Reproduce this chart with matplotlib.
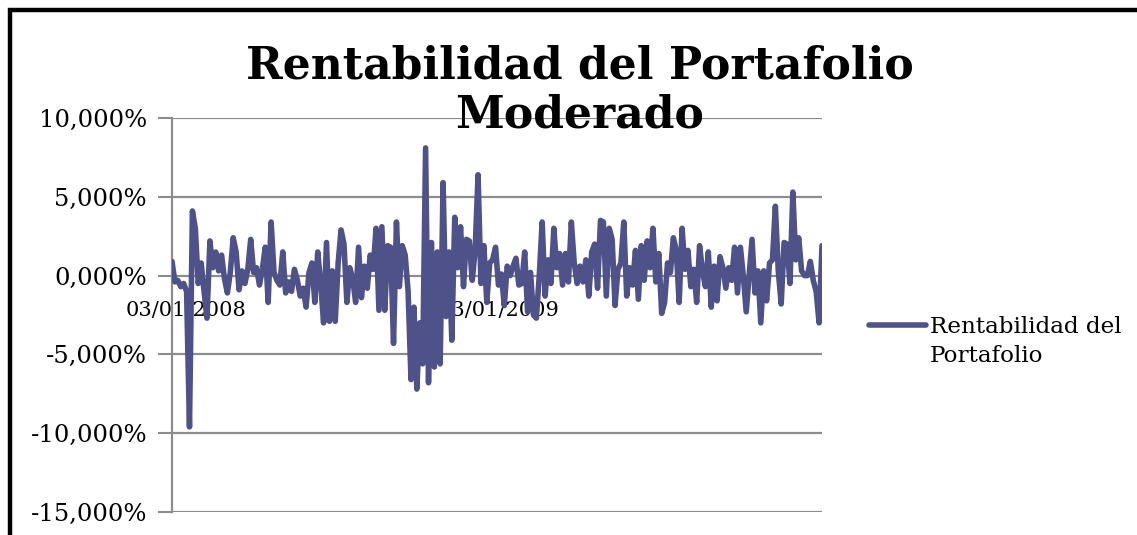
import numpy as np
import matplotlib
matplotlib.use("Agg")
import matplotlib.pyplot as plt
from matplotlib.patches import Rectangle

# Daily returns (%), in order
seg_2008a = [0.9, -0.4, -0.3, -0.7, -0.5, -1.0, -9.6, 4.1, 3.0, -0.5, 0.8, -1.0, -2.7, 2.2, 0.5,
             1.5, 0.3, 1.3, -0.2, -1.1, 0.2, 2.4, 1.5, -0.9, 0.3, -0.5, 0.4, 2.3, 0.2, 0.5,
             -0.6, 0.4, 1.8, -1.7, 3.4]
seg_2008b = [0.2, -0.3, -0.6, 1.5, -1.1, -0.4, -1.0, 0.4, -0.3, -1.3, -0.8, -2.0, 0.2, 0.8, -1.7,
             1.5, -0.5, -3.0, 2.1, -2.9, 0.3, -2.9, 0.8, 2.9, 2.0, -1.7, 0.5, -0.2, -1.7, 1.8,
             -1.4, 0.6, -0.8, 1.3, 0.4, 3.0, -2.2]
seg_2008c = [3.1, -2.2, 1.9, 1.8, -4.3, 3.4, -0.7, 1.9, 1.3, -1.0, -6.6, -2.0, -7.2, -3.0, -5.6,
             8.1, -6.8, 2.1, -5.8, 1.5, -5.6, 5.9, -2.6, 1.5, -4.1, 3.7, 0.5, 3.1, -0.7, 2.3,
             2.2, -0.3, 1.6, 6.4, -0.5, 1.9, -1.7, 0.8, 1.0]
seg_2009a = [1.8, -0.6, 0.1, -1.9, 0.6, 0.0, 0.6, 1.1, -0.6, -0.5, 1.5, -2.3, 0.2, -2.5, -2.7,
             0.0, 3.4, -1.3, 1.0, -0.5, 3.0, 0.5, 1.4, -0.6, 1.4, -0.4, 3.4, 0.8, -0.5, 0.6,
             -0.4, 1.0, -1.3, 1.5, 2.0, -0.8, 3.5]
seg_2009b = [3.4, -1.3, 3.0, 2.3, -1.9, 0.4, 0.8, 3.4, -1.3, 0.5, -0.6, 1.6, -1.5, 1.9, -0.3,
             2.2, 0.5, 3.0, -0.4, 1.4, -2.4, -1.7, 0.8, 0.2, 2.4, 1.6, -1.7, 3.0, 0.4, 1.6,
             -0.7, 0.4, -1.7, 1.9, 0.3, -0.7, 1.5, -2.0, 0.6]
seg_2009c = [-1.6, 1.2, 0.5, -0.8, 0.5, -0.3, 1.8, -1.1, 1.8, 0.0, -2.3, 0.0, 2.3, -1.1, 0.3,
             -3.0, 0.3, -1.6, 0.8, 1.0, 4.4, 0.3, -1.8, 2.1, 2.0, -0.5, 5.3, 1.0, 2.4, 0.3,
             0.0, 0.0, 0.9, -0.3, -1.0, -3.0, 1.9]

returns = seg_2008a + seg_2008b + seg_2008c + seg_2009a + seg_2009b + seg_2009c

date_labels = ['03/01/2008', '03/01/2009']
y_ticks = [-15, -10, -5, 0, 5, 10]
y_labels = ['-15,000%', '-10,000%', '-5,000%', '0,000%', '5,000%', '10,000%']

title = 'Rentabilidad del Portafolio\nModerado'
series_name = ['Rentabilidad del', 'Portafolio']

line_color = '#4f5189'
grid_color = '#8c8c8c'

plt.rcParams['font.family'] = ['DejaVu Serif']

W, H = 1137, 535
fig = plt.figure(figsize=(W / 100, H / 100), dpi=100)
ax = fig.add_axes([172 / W, 1 - 512 / H, 650 / W, 394 / H])

x = np.arange(len(returns))
ax.plot(x, returns, color=line_color, lw=4.0, solid_joinstyle='round',
        solid_capstyle='round', label=series_name[0], zorder=3)

n = len(returns) - 1
ax.set_xlim(0, n)
ax.set_ylim(-15, 10)

# y axis
ax.set_yticks(y_ticks)
ax.set_yticklabels(y_labels, fontsize=17.5)
ax.tick_params(axis='y', length=10, width=1.5, color=grid_color, pad=8)
ax.yaxis.grid(True, color=grid_color, lw=1.6)
ax.set_axisbelow(True)

# x axis crosses at zero
for s in ['top', 'right']:
    ax.spines[s].set_visible(False)
ax.spines['left'].set_color(grid_color)
ax.spines['left'].set_linewidth(1.6)
ax.spines['bottom'].set_position(('data', 0))
ax.spines['bottom'].set_visible(False)
tick_pos = [n * 14 / 650, n * 327 / 650]
ax.set_xticks(tick_pos)
ax.set_xticklabels(date_labels, fontsize=15)
ax.tick_params(axis='x', length=0, pad=18)

fig.text(580 / W, 1 - 128 / H, title, ha='center', va='baseline', fontsize=31.8,
         fontweight='bold', linespacing=1.2)

# legend: line handle next to the first line of the series name
fig.legend(loc='center left', bbox_to_anchor=(857 / W, 1 - 327 / H), frameon=False,
           fontsize=16.6, handlelength=2.5, handletextpad=0.15, borderpad=0)
leg_text = fig.legends[0].get_texts()[0]
fig.canvas.draw()
bb = leg_text.get_window_extent()
fig.text(bb.x0 / W, (bb.y0 - 29) / H, series_name[1], fontsize=16.6, ha='left', va='bottom')

# chart frame (only top and left edges visible)
fig.patches.append(Rectangle((10 / W, -0.2), 1.2, 1.2 - 10 / H, transform=fig.transFigure,
                             fill=False, edgecolor='black', lw=3.2, clip_on=False))

fig.savefig('out.png', dpi=100, facecolor='white')
